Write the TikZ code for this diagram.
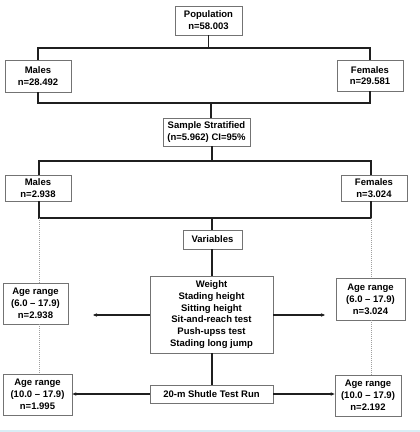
\documentclass[tikz,border=0pt]{standalone}
\usepackage{fontspec}
\setmainfont{Liberation Sans}
\usepackage{tikz}
\usetikzlibrary{positioning,calc,arrows.meta}
\definecolor{boxgray}{rgb}{0.45, 0.45, 0.45}
\definecolor{linedark}{rgb}{0.12, 0.12, 0.12}
\definecolor{bandblue}{rgb}{0.85, 0.93, 0.96}

\begin{document}
\begin{tikzpicture}[x=1pt,y=-1pt,
                box/.style={draw=boxgray,line width=0.8pt,fill=white,align=center,inner sep=0pt,
                  font=\fontsize{9.5}{11.8}\selectfont\bfseries},
                tree/.style={draw=linedark,line width=1.2pt},
                dots/.style={draw=gray!75,line width=0.8pt,dash pattern=on 1pt off 1pt},
                arr/.style={tree,-{Stealth[length=4pt,width=3.5pt]}}]
\useasboundingbox (0,0) rectangle (420,432);
\fill[bandblue] (0,429.5) rectangle (420,432);
%Nodes
    \node[box,minimum width=67pt,minimum height=29pt] (pop) at (208.5,20.5) {Population\\n=58.003};
    \node[box,minimum width=66pt,minimum height=32pt] (males1) at (38,76) {Males\\n=28.492};
    \node[box,minimum width=66pt,minimum height=31pt] (fem1) at (370,75.5) {Females\\n=29.581};
    \node[box,minimum width=87pt,minimum height=28pt] (sample) at (206.5,132) {Sample Stratified\\(n=5.962) CI=95\%};
    \node[box,minimum width=66pt,minimum height=26pt] (males2) at (38,188) {Males\\n=2.938};
    \node[box,minimum width=66pt,minimum height=26pt] (fem2) at (374,188) {Females\\n=3.024};
    \node[box,minimum width=59pt,minimum height=19pt] (vars) at (212.5,239.5) {Variables};
    \node[box,minimum width=123pt,minimum height=77pt] (tests) at (211.5,314.5)
        {Weight\\Stading height\\Sitting height\\Sit-and-reach test\\Push-upss test\\Stading long jump};
    \node[box,minimum width=65pt,minimum height=41pt] (ageL1) at (35.5,303.5) {Age range\\(6.0 -- 17.9)\\n=2.938};
    \node[box,minimum width=69pt,minimum height=42pt] (ageR1) at (370.5,299) {Age range\\(6.0 -- 17.9)\\n=3.024};
    \node[box,minimum width=123pt,minimum height=18pt] (run) at (211.5,394) {20-m Shutle Test Run};
    \node[box,minimum width=69pt,minimum height=41pt] (ageL2) at (37.5,394.5) {Age range\\(10.0 -- 17.9)\\n=1.995};
    \node[box,minimum width=66pt,minimum height=41pt] (ageR2) at (368,395.5) {Age range\\(10.0 -- 17.9)\\n=2.192};

%Junctions
    \coordinate (j1) at (208.5,48);
    \coordinate (j2) at (211,103);
    \coordinate (j3) at (212,161);
    \coordinate (j4) at (212,218);
    \coordinate (dL) at (39,218);
    \coordinate (dR) at (371,218);
    \coordinate (tipL) at (93,315);
    \coordinate (tipR) at (325,315);

%Tree
    \draw[tree] (pop) -- (j1);
    \draw[tree] (males1.north) |- (j1) -| (fem1.north);
    \draw[tree] (males1.south) |- (j2) -| (fem1.south);
    \draw[tree] (j2) -- (j2 |- sample.north);
    \draw[tree] (j3 |- sample.south) -- (j3);
    \draw[tree] (males2.north -| dL) |- (j3) -| (fem2.north -| dR);
    \draw[tree] (males2.south -| dL) -- (dL) -- (dR) -- (fem2.south -| dR);
    \draw[tree] (j4) -- (j4 |- vars.north);
    \draw[tree] (vars.south -| j4) -- (tests.north -| j4);
    \draw[tree] (tests.south -| j4) -- (run.north -| j4);

%Dotted links
    \draw[dots] (dL) -- (dL |- ageL1.north);
    \draw[dots] (dL |- ageL1.south) -- (dL |- ageL2.north);
    \draw[dots] (dR) -- (dR |- ageR1.north);
    \draw[dots] (dR |- ageR1.south) -- (dR |- ageR2.north);

%Arrows
    \draw[arr] (tests.west |- tipL) -- (tipL);
    \draw[arr] (tests.east |- tipR) -- (tipR);
    \draw[arr] (run.west) -- (run.west -| ageL2.east);
    \draw[arr] (run.east) -- (run.east -| ageR2.west);
\end{tikzpicture}
\end{document}
